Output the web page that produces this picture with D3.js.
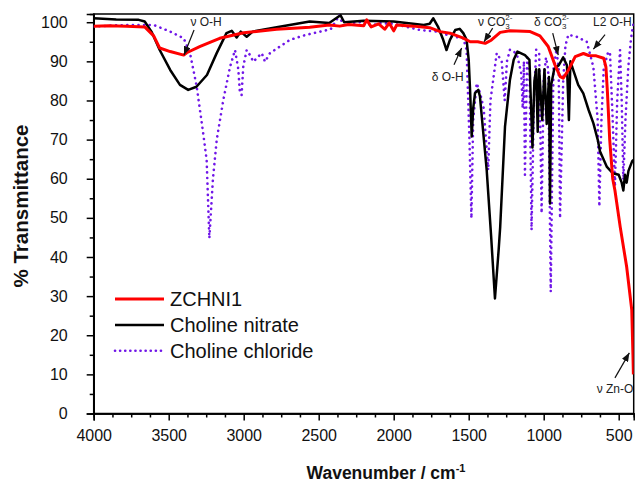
<!DOCTYPE html>
<html>
<head>
<meta charset="utf-8">
<script src="https://cdn.jsdelivr.net/npm/d3@7"></script>
<style>
  body { margin: 0; background: #fff; }
  svg { display: block; font-family: Arial, "Liberation Sans", sans-serif; }
</style>
</head>
<body>
<div id="chart"></div>
<script>
(function() {
  'use strict'

  // Data //
  var xTicks = [4000, 3500, 3000, 2500, 2000, 1500, 1000, 500]
  var yTicks = [0, 10, 20, 30, 40, 50, 60, 70, 80, 90, 100]
  var seriesNames = ['ZCHNI1', 'Choline nitrate', 'Choline chloride']

  // [wavenumber, %T]
  var zchni1 = [
    [4000, 99.0], [3900, 99.1], [3780, 99.0], [3660, 98.8], [3600, 96.5], [3560, 93.4],
    [3490, 92.5], [3400, 91.6], [3380, 92.2], [3290, 93.8], [3160, 95.9], [3000, 97.3],
    [2780, 98.2], [2560, 98.7], [2430, 99.3], [2360, 99.0], [2300, 99.4], [2200, 99.1],
    [2180, 100.6], [2150, 98.8], [2100, 99.6], [2060, 98.2], [2030, 99.8], [2000, 97.8],
    [1980, 99.3], [1870, 99.0], [1760, 98.6], [1690, 97.6], [1625, 97.2], [1540, 96.0],
    [1490, 95.0], [1440, 95.0], [1390, 94.6], [1350, 95.4], [1290, 97.4], [1225, 97.8],
    [1090, 97.6], [1025, 96.5], [970, 93.8], [925, 89.1], [890, 86.1], [870, 85.7],
    [835, 87.8], [790, 91.2], [735, 92.0], [700, 91.5], [650, 91.4], [600, 90.8],
    [585, 88.5], [575, 82], [560, 70], [540, 60], [525, 57], [490, 47.7], [447, 37.5],
    [413, 26.5], [405, 15], [402, 10]
  ]

  var cholineNitrate = [
    [4000, 101.0], [3850, 100.7], [3700, 100.6], [3660, 100.2], [3615, 97.6], [3560, 92.9],
    [3490, 87.8], [3425, 84.0], [3370, 82.7], [3315, 83.5], [3245, 86.5], [3180, 92.1],
    [3115, 97.2], [3080, 97.8], [3047, 96.1], [3020, 97.6], [2980, 96.3], [2940, 97.6],
    [2780, 98.7], [2560, 100.2], [2430, 99.8], [2355, 101.8], [2330, 100.0], [2200, 100.4],
    [2000, 100.2], [1800, 99.3], [1760, 99.6], [1736, 101.0], [1705, 98.9], [1670, 95.5],
    [1648, 92.9], [1625, 95.5], [1590, 98.0], [1560, 98.3], [1536, 97.2], [1514, 95.5],
    [1500, 90.4], [1490, 81.9], [1480, 70.8], [1470, 78], [1458, 81.9], [1436, 82.7],
    [1425, 81.0], [1380, 62.2], [1350, 45], [1325, 29.4], [1300, 42], [1290, 47.7],
    [1258, 73.3], [1225, 85.3], [1200, 90.4], [1175, 92.5], [1125, 91.6], [1095, 90.4],
    [1075, 68], [1062, 85], [1050, 88], [1040, 72], [1030, 88], [1010, 75], [995, 88],
    [980, 74], [965, 86], [958, 53.7], [950, 84], [930, 88], [900, 89], [870, 91],
    [845, 89], [832, 75], [822, 90], [805, 88], [770, 84], [736, 81.8], [700, 77.5],
    [669, 74.2], [640, 70], [625, 67], [580, 63.1], [540, 61.4], [500, 61.0], [480, 59],
    [469, 57], [458, 61], [447, 59], [435, 62], [424, 63.1], [410, 64.5], [402, 64.8]
  ]

  var cholineChloride = [
    [4000, 98.9], [3850, 99.2], [3700, 99.3], [3600, 99.3], [3490, 97.6], [3400, 95.9],
    [3358, 92.1], [3313, 83.5], [3270, 71.6], [3247, 64.8], [3229, 44.8], [3205, 60],
    [3180, 69.9], [3136, 80.1], [3091, 88.6], [3058, 92.9], [3036, 88], [3025, 81.8],
    [3014, 81.4], [3003, 88.6], [2980, 92.9], [2958, 91.6], [2936, 89.9], [2903, 91.2],
    [2880, 92.1], [2858, 89.9], [2825, 92.1], [2758, 93.8], [2691, 95.5], [2600, 96.6],
    [2536, 97.2], [2420, 98.2], [2360, 101.9], [2340, 99.2], [2300, 99.7], [2200, 100.1],
    [2150, 99.0], [2100, 99.8], [2000, 99.6], [1824, 98.0], [1714, 97.6], [1603, 96.3],
    [1536, 95.9], [1514, 92.9], [1495, 70], [1482, 49.9], [1470, 75], [1447, 84.4],
    [1425, 82], [1400, 78], [1370, 62.2], [1355, 80], [1313, 92.1], [1280, 90], [1260, 80],
    [1245, 90], [1225, 93], [1180, 92], [1150, 87], [1140, 78], [1132, 90], [1125, 61],
    [1110, 91], [1095, 88], [1081, 46.9], [1065, 80], [1050, 93], [1030, 92], [1014, 51.2],
    [1000, 85], [985, 91], [970, 88], [953, 31.1], [935, 88], [915, 93], [900, 88],
    [891, 49.9], [870, 85], [855, 94], [836, 96.8], [780, 96.3], [713, 95.0], [669, 88.6],
    [640, 75], [629, 52.9], [615, 75], [600, 88], [570, 92.5], [558, 92.1], [540, 75],
    [525, 58], [510, 80], [491, 92.9], [480, 80], [469, 59.7], [455, 75], [436, 88.6],
    [420, 95], [413, 97.2], [402, 99.5]
  ]

  // label pieces: [text, 'sub' | 'sup' | ''], label start, arrow tail, arrow tip (all in wavenumber, %T)
  var annotations = [
    { parts: [['\u03bd O-H', '']], at: [3355, 99.0], from: [3331, 98.0], to: [3398, 91.6] },
    { parts: [['\u03bd CO', ''], ['3', 'sub'], ['2-', 'sup']], at: [1438, 99.0], from: [1340, 98.5], to: [1398, 95.0] },
    { parts: [['\u03b4 CO', ''], ['3', 'sub'], ['2-', 'sup']], at: [1065, 99.0], from: [940, 97.2], to: [903, 91.6] },
    { parts: [['L2 O-H', '']], at: [671, 99.0], from: [591, 96.8], to: [669, 93.1] },
    { parts: [['\u03b4 O-H', '']], at: [1747, 85.0], from: [1598, 89.1], to: [1547, 93.4] },
    { parts: [['\u03bd Zn-O', '']], at: [647, 5.2], from: [525, 9.1], to: [429, 15.5] }
  ]

  // SVG Setup //
  var width = 636,
    height = 484,
    plot = { left: 93.7, right: 633.7, top: 14, bottom: 413.5 }

  var svg = d3.select('#chart').append('svg')
    .attr('width', width)
    .attr('height', height)

  var x = d3.scaleLinear()
    .domain([4000, 400])
    .range([plot.left, plot.right])

  var y = d3.scaleLinear()
    .domain([0, 102.1])
    .range([plot.bottom, plot.top])

  svg.append('defs').append('clipPath')
    .attr('id', 'clip')
    .append('rect')
    .attr('x', plot.left)
    .attr('y', plot.top)
    .attr('width', plot.right - plot.left)
    .attr('height', plot.bottom - plot.top)

  svg.select('defs').append('marker')
    .attr('id', 'arrow')
    .attr('viewBox', '0 0 10 8')
    .attr('refX', 10)
    .attr('refY', 4)
    .attr('markerUnits', 'userSpaceOnUse')
    .attr('markerWidth', 9)
    .attr('markerHeight', 7)
    .attr('orient', 'auto')
    .append('path')
    .attr('d', 'M0,0L10,4L0,8Z')
    .attr('fill', '#111')

  // Axes //
  var minorX = d3.range(4000, 399, -125).filter(function(d) { return d % 500 !== 0 })
  var minorY = d3.range(5, 101, 10)

  svg.append('g')
    .attr('class', 'axis')
    .attr('transform', 'translate(0,' + plot.bottom + ')')
    .call(d3.axisBottom(x).tickValues(minorX).tickSize(4).tickFormat(''))

  svg.append('g')
    .attr('class', 'axis')
    .attr('transform', 'translate(0,' + plot.bottom + ')')
    .call(d3.axisBottom(x).tickValues(xTicks).tickSize(7).tickPadding(9).tickFormat(d3.format('d')))

  svg.append('g')
    .attr('class', 'axis')
    .attr('transform', 'translate(' + plot.left + ',0)')
    .call(d3.axisLeft(y).tickValues(minorY).tickSize(4).tickFormat(''))

  svg.append('g')
    .attr('class', 'axis')
    .attr('transform', 'translate(' + plot.left + ',0)')
    .call(d3.axisLeft(y).tickValues(yTicks).tickSize(7).tickPadding(19).tickFormat(d3.format('d')))

  svg.selectAll('.axis path, .axis line')
    .attr('stroke', '#000')
    .attr('stroke-width', 1.5)
  svg.selectAll('.axis text')
    .attr('font-size', 16)
    .attr('font-family', 'Arial, "Liberation Sans", sans-serif')
    .attr('fill', '#111')

  // frame
  svg.append('rect')
    .attr('x', plot.left)
    .attr('y', plot.top)
    .attr('width', plot.right - plot.left)
    .attr('height', plot.bottom - plot.top)
    .attr('fill', 'none')
    .attr('stroke', '#000')
    .attr('stroke-width', 1.5)

  // Titles //
  var xTitle = svg.append('text')
    .attr('x', 386)
    .attr('y', 479.3)
    .attr('text-anchor', 'middle')
    .attr('font-weight', 'bold')
    .attr('font-size', 17.5)
    .attr('fill', '#111')
  xTitle.append('tspan').text('Wavenumber / cm')
  xTitle.append('tspan').attr('font-size', 11).attr('dy', -7).text('-1')

  svg.append('text')
    .attr('transform', 'translate(28,206) rotate(-90)')
    .attr('text-anchor', 'middle')
    .attr('font-weight', 'bold')
    .attr('font-size', 20.5)
    .attr('fill', '#111')
    .text('% Transmittance')

  // Spectra //
  var line = d3.line()
    .x(function(d) { return x(d[0]) })
    .y(function(d) { return y(d[1]) })

  var styles = [
    { color: '#ff0000', width: 3, dash: null, cap: 'butt' },
    { color: '#000000', width: 2.5, dash: null, cap: 'butt' },
    { color: '#7016e8', width: 2.6, dash: '0.1 5.5', cap: 'round' }
  ]
  var series = [zchni1, cholineNitrate, cholineChloride]

  var curves = svg.append('g').attr('clip-path', 'url(#clip)')
  ;[2, 1, 0].forEach(function(i) {
    curves.append('path')
      .datum(series[i])
      .attr('d', line)
      .attr('fill', 'none')
      .attr('stroke', styles[i].color)
      .attr('stroke-width', styles[i].width)
      .attr('stroke-linejoin', 'round')
      .attr('stroke-linecap', styles[i].cap)
      .attr('stroke-dasharray', styles[i].dash)
  })

  // Annotations //
  annotations.forEach(function(a) {
    svg.append('line')
      .attr('x1', x(a.from[0]))
      .attr('y1', y(a.from[1]))
      .attr('x2', x(a.to[0]))
      .attr('y2', y(a.to[1]))
      .attr('stroke', '#111')
      .attr('stroke-width', 1.2)
      .attr('marker-end', 'url(#arrow)')

    var t = svg.append('text')
      .attr('x', x(a.at[0]))
      .attr('y', y(a.at[1]))
      .attr('font-size', 12)
      .attr('fill', '#222')
    var shift = 0
    a.parts.forEach(function(p) {
      var ts = t.append('tspan').text(p[0])
      if (p[1] === 'sub') {
        ts.attr('font-size', 8).attr('dy', 3)
        shift = 3
      } else if (p[1] === 'sup') {
        ts.attr('font-size', 8).attr('dx', -4.5).attr('dy', -shift - 6)
      }
    })
  })

  // Legend //
  var legend = svg.append('g').attr('transform', 'translate(115,299)')
  seriesNames.forEach(function(name, i) {
    var gy = i * 25.9
    legend.append('line')
      .attr('x1', 0)
      .attr('x2', 49)
      .attr('y1', gy)
      .attr('y2', gy)
      .attr('stroke', styles[i].color)
      .attr('stroke-width', styles[i].width)
      .attr('stroke-linecap', styles[i].cap)
      .attr('stroke-dasharray', styles[i].dash === null ? null : '0.1 5')
    legend.append('text')
      .attr('x', 55)
      .attr('y', gy + 7.2)
      .attr('font-size', 20)
      .attr('fill', '#111')
      .text(name)
  })
})()
</script>
</body>
</html>
